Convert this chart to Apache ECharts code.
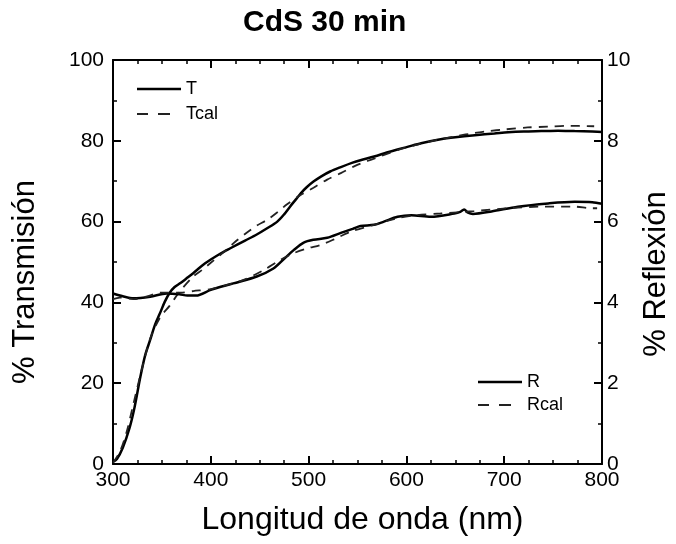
<!DOCTYPE html>
<html><head><meta charset="utf-8">
<script src="https://cdn.jsdelivr.net/npm/echarts@6/dist/echarts.min.js"></script>
<style>html,body{margin:0;padding:0;background:#fff}#c{width:676px;height:544px}</style>
</head><body><div id="c"></div>
<script>
var titleText = 'CdS 30 min';
var xName = 'Longitud de onda (nm)';
var yLeftName = '% Transmisión';
var yRightName = '% Reflexión';
var xTicks = [300, 400, 500, 600, 700, 800];
var yLeftTicks = [0, 20, 40, 60, 80, 100];
var yRightTicks = [0, 2, 4, 6, 8, 10];

var T_wl = [300,304,310,317,322,328,333,338,343,348,353,358,363,369,375,382,390,400,410,420,435,447,458,468,475,481,487,492,498,505,513,522,533,545,553,567,580,590,601,615,635,650,670,690,704,720,738,755,772,790,800];
var T_val = [0.5,1.2,4,9,14,21.6,27,30.7,34.5,37.3,40.2,42.4,43.8,44.8,45.9,47.2,48.9,50.6,52.1,53.4,55.3,56.8,58.4,60,61.8,63.7,65.5,67,68.5,69.9,71.2,72.4,73.5,74.6,75.2,76.1,77.1,77.8,78.5,79.4,80.4,80.9,81.4,81.8,82.1,82.3,82.4,82.5,82.4,82.3,82.2];

var Tcal_wl = [300,307,314,320,328,338,348,358,368,382,392,400,415,425,437,447,458,468,478,490,505,519,533,546,560,575,591,610,635,652,669,684,700,724,745,765,792];
var Tcal_val = [0.3,3,8,14,22,31,36.2,39.2,42.6,46.4,48.2,49.8,52.8,55,57.3,59,60.5,62.3,64.3,66.3,68.4,70.4,72,73.6,75,76.3,77.7,79,80.4,81.2,81.9,82.4,82.8,83.3,83.5,83.7,83.6];

var R_wl = [300,310,321,338,355,368,376,385,400,423,447,464,475,485,495,505,519,533,545,553,567,577,591,605,625,649,655,659,663,668,687,714,745,772,790,800];
var R_val = [4.22,4.15,4.10,4.14,4.22,4.20,4.17,4.17,4.31,4.47,4.64,4.84,5.08,5.3,5.48,5.55,5.6,5.72,5.82,5.89,5.92,6.0,6.12,6.16,6.12,6.2,6.24,6.3,6.22,6.19,6.25,6.37,6.45,6.49,6.48,6.44];

var Rcal_wl = [300,307,321,335,348,369,382,400,415,433,454,471,485,499,512,526,543,567,590,611,635,669,704,738,772,789,795];
var Rcal_val = [4.08,4.12,4.08,4.15,4.24,4.24,4.28,4.33,4.42,4.55,4.8,5.05,5.22,5.34,5.42,5.56,5.75,5.92,6.08,6.16,6.2,6.26,6.33,6.37,6.37,6.33,6.33];

function pairs(xs, ys){ return xs.map(function(x,i){ return [x, ys[i]]; }); }

var FONT = 'Liberation Sans, Arial, sans-serif';
var SOLID_ICON = 'path://M0,0h44v2.4h-44z';
var DASH_ICON = 'path://M0,0h11v2h-11zM21,0h12v2h-12zM44,0v2z';
var axLine = {show:true, onZero:false, lineStyle:{color:'#000', width:2}};
var tick = {show:true, inside:true, length:8, lineStyle:{color:'#000', width:2}};
var legendText = {fontFamily:FONT, fontSize:18, color:'#000'};
var chart = echarts.init(document.getElementById('c'), null, {renderer:'canvas'});
chart.setOption({
  backgroundColor:'#fff',
  animation:false,
  title:{text:titleText, left:243, top:8, padding:0, textStyle:{fontFamily:FONT, fontSize:30, fontWeight:'bold', color:'#000'}},
  grid:{left:113, right:74, top:60, bottom:80, outerBoundsMode:'none', containLabel:false},
  legend:[
    {data:[{name:'T', icon:SOLID_ICON}, {name:'Tcal', icon:DASH_ICON}], orient:'vertical', left:137, top:80, padding:0,
     itemWidth:44, itemHeight:3, itemGap:7, itemStyle:{borderWidth:0}, textStyle:legendText},
    {data:[{name:'R', icon:SOLID_ICON}, {name:'Rcal', icon:DASH_ICON}], orient:'vertical', left:478, top:373, padding:0,
     itemWidth:44, itemHeight:3, itemGap:5, itemStyle:{borderWidth:0}, textStyle:legendText}
  ],
  xAxis:[
    {type:'value', min:300, max:800, interval:100, position:'bottom',
     name:xName, nameLocation:'middle', nameGap:40,
     nameTextStyle:{fontFamily:FONT, fontSize:32, color:'#000', padding:[0,0,0,10]},
     axisLine:axLine, axisTick:tick,
     minorTick:{show:true, splitNumber:4, length:4, lineStyle:{color:'#000', width:1.5}},
     axisLabel:{fontFamily:FONT, fontSize:21, color:'#000', margin:6,
       formatter:function(v){ return xTicks.indexOf(v) >= 0 ? String(v) : ''; }},
     splitLine:{show:false}},
    {type:'value', min:300, max:800, interval:100, position:'top',
     axisLine:axLine, axisTick:tick,
     minorTick:{show:true, splitNumber:4, length:4, lineStyle:{color:'#000', width:1.5}},
     axisLabel:{show:false}, splitLine:{show:false}}
  ],
  yAxis:[
    {type:'value', min:0, max:100, interval:20, position:'left',
     name:yLeftName, nameLocation:'middle', nameGap:72,
     nameTextStyle:{fontFamily:FONT, fontSize:31, color:'#000', padding:[0,40,0,0]},
     axisLine:axLine, axisTick:tick,
     minorTick:{show:true, splitNumber:2, length:4, lineStyle:{color:'#000', width:1.5}},
     axisLabel:{fontFamily:FONT, fontSize:21, color:'#000', margin:9,
       formatter:function(v){ return yLeftTicks.indexOf(v) >= 0 ? String(v) : ''; }},
     splitLine:{show:false}},
    {type:'value', min:0, max:10, interval:2, position:'right',
     name:yRightName, nameLocation:'middle', nameGap:38,
     nameTextStyle:{fontFamily:FONT, fontSize:31, color:'#000', padding:[0,24,0,0]},
     axisLine:axLine, axisTick:tick,
     minorTick:{show:true, splitNumber:2, length:4, lineStyle:{color:'#000', width:1.5}},
     axisLabel:{fontFamily:FONT, fontSize:21, color:'#000', margin:5,
       formatter:function(v){ return yRightTicks.indexOf(v) >= 0 ? String(v) : ''; }},
     splitLine:{show:false}}
  ],
  series:[
    {name:'T', type:'line', xAxisIndex:0, yAxisIndex:0, data:pairs(T_wl, T_val), symbol:'none', smooth:0.3,
     lineStyle:{color:'#000', width:2.5}, itemStyle:{color:'#000'}},
    {name:'Tcal', type:'line', xAxisIndex:0, yAxisIndex:0, data:pairs(Tcal_wl, Tcal_val), symbol:'none', smooth:0.3,
     lineStyle:{color:'#222', width:1.8, type:[9,7]}, itemStyle:{color:'#222'}},
    {name:'R', type:'line', xAxisIndex:0, yAxisIndex:1, data:pairs(R_wl, R_val), symbol:'none', smooth:0.3,
     lineStyle:{color:'#000', width:2.5}, itemStyle:{color:'#000'}},
    {name:'Rcal', type:'line', xAxisIndex:0, yAxisIndex:1, data:pairs(Rcal_wl, Rcal_val), symbol:'none', smooth:0.3,
     lineStyle:{color:'#222', width:1.8, type:[9,7]}, itemStyle:{color:'#222'}}
  ]
});
</script></body></html>
